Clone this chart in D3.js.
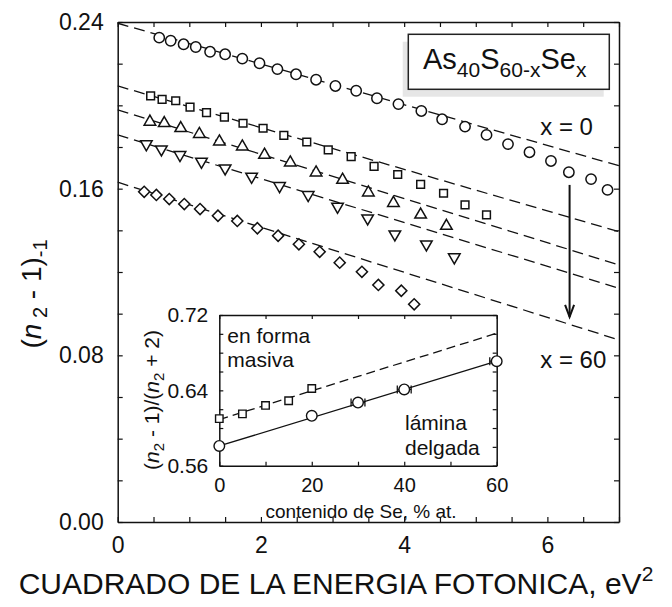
<html>
<head>
<meta charset="utf-8">
<title>As40S60-xSex</title>
<style>
  body { margin: 0; background: #fff; }
  text { font-family: "Liberation Sans", Arial, sans-serif; fill: #111; }
</style>
</head>
<body>
<script src="https://cdn.jsdelivr.net/npm/d3@7"></script>
<script>

// datos: cuadrado de la energia fotonica (eV^2) y (n^2-1)^-1 para cada composicion
var e2_x0  = [0.58,0.74,0.92,1.09,1.29,1.50,1.74,1.98,2.23,2.49,2.77,3.04,3.33,3.62,3.92,4.24,4.53,4.85,5.15,5.45,5.75,6.05,6.30,6.61,6.84];
var inv_x0 = [0.2325,0.2310,0.2293,0.2280,0.2257,0.2245,0.2224,0.2202,0.2174,0.2149,0.2123,0.2093,0.2070,0.2034,0.2006,0.1973,0.1933,0.1898,0.1858,0.1814,0.1775,0.1733,0.1679,0.1646,0.1594];

var e2_x15  = [0.46,0.62,0.81,1.01,1.24,1.49,1.75,2.03,2.32,2.64,2.94,3.26,3.58,3.91,4.23,4.55,4.85,5.15];
var inv_x15 = [0.2045,0.2029,0.2022,0.1991,0.1965,0.1943,0.1914,0.1890,0.1856,0.1824,0.1786,0.1754,0.1707,0.1668,0.1621,0.1578,0.1522,0.1474];

var e2_x30  = [0.45,0.65,0.88,1.14,1.42,1.74,2.05,2.41,2.77,3.14,3.50,3.85,4.23,4.59];
var inv_x30 = [0.1921,0.1914,0.1890,0.1862,0.1826,0.1802,0.1762,0.1725,0.1677,0.1642,0.1581,0.1531,0.1475,0.1421];

var e2_x45  = [0.40,0.61,0.87,1.17,1.50,1.87,2.26,2.66,3.07,3.49,3.87,4.31,4.70];
var inv_x45 = [0.1814,0.1789,0.1762,0.1730,0.1698,0.1658,0.1613,0.1570,0.1514,0.1458,0.1381,0.1333,0.1271];

var e2_x60  = [0.37,0.54,0.72,0.93,1.15,1.40,1.67,1.95,2.24,2.53,2.82,3.10,3.41,3.64,3.96,4.14];
var inv_x60 = [0.1585,0.1570,0.1550,0.1526,0.1502,0.1470,0.1445,0.1410,0.1374,0.1333,0.1297,0.1245,0.1201,0.1138,0.1110,0.1045];

// rectas de ajuste (valor en E^2 = 0 y en E^2 = 7)
var fitStart = [0.2394, 0.2093, 0.1978, 0.1858, 0.1631];
var fitEnd   = [0.1710, 0.1393, 0.1234, 0.1122, 0.0874];

// grafico interior
var se_bulk    = [0, 5, 10, 15, 20];
var ratio_bulk = [0.610, 0.615, 0.624, 0.629, 0.642];
var se_film    = [0, 20, 30, 40, 60];
var ratio_film = [0.581, 0.613, 0.627, 0.641, 0.671];
var err_film   = [0, 0, 1.5, 1.5, 1.5];
var fitBulk = [0.609, 0.7006];
var fitFilm = [0.581, 0.671];

var xTicks = [0, 2, 4, 6];
var yTicks = [0, 0.08, 0.16, 0.24];

var width  = 672;
var height = 607;

var svg = d3.select("body")
			.append("svg")
			.attr("width", width)
			.attr("height", height);

var padding = { top: 22, right: 53, bottom: 85, left: 117.7 };

var x = d3.scaleLinear()
		.domain([0, 7])
		.range([padding.left, width - padding.right]);
var y = d3.scaleLinear()
		.domain([0, 0.24])
		.range([height - padding.bottom, padding.top]);

// ejes (marcas hacia dentro)
var fmtX = function(d){ return xTicks.indexOf(d) >= 0 ? d : ""; };
var fmtY = function(d){
	for (var i = 0; i < yTicks.length; i++) if (Math.abs(d - yTicks[i]) < 1e-6) return d.toFixed(2);
	return "";
};

svg.append("g")
	.attr("transform", "translate(0," + y(0) + ")")
	.call(d3.axisBottom(x).tickValues(d3.range(0, 7.01, 0.5)).tickSizeInner(-5).tickSizeOuter(0).tickPadding(15).tickFormat(fmtX));
svg.append("g")
	.attr("transform", "translate(0," + y(0.24) + ")")
	.call(d3.axisTop(x).tickValues(d3.range(0, 7.01, 0.5)).tickSizeInner(-5).tickSizeOuter(0).tickFormat(""));
svg.append("g")
	.attr("transform", "translate(" + x(0) + ",0)")
	.call(d3.axisLeft(y).tickValues(d3.range(0, 0.2401, 0.02)).tickSizeInner(-5).tickSizeOuter(0).tickPadding(14).tickFormat(fmtY));
svg.append("g")
	.attr("transform", "translate(" + x(7) + ",0)")
	.call(d3.axisRight(y).tickValues(d3.range(0, 0.2401, 0.02)).tickSizeInner(-5).tickSizeOuter(0).tickFormat(""));

svg.selectAll(".domain").attr("stroke", "#111").attr("stroke-width", 1.5);
svg.selectAll(".tick line").attr("stroke", "#111").attr("stroke-width", 1.2);
svg.selectAll(".tick text").attr("font-size", "23px").attr("font-family", "Liberation Sans, Arial, sans-serif").attr("fill", "#111");

// rectas de ajuste discontinuas
svg.selectAll("line.fit")
	.data(fitStart)
	.enter()
	.append("line")
	.attr("class", "fit")
	.attr("x1", x(0))
	.attr("y1", function(d){ return y(d); })
	.attr("x2", x(7))
	.attr("y2", function(d, i){ return y(fitEnd[i]); })
	.attr("stroke", "#111")
	.attr("stroke-width", 1.3)
	.attr("stroke-dasharray", "11,6");

// simbolos
function drawSeries(xs, ys, type, size, rot){
	var sym = d3.symbol().type(type).size(size);
	svg.append("g")
		.selectAll("path")
		.data(xs)
		.enter()
		.append("path")
		.attr("d", sym)
		.attr("transform", function(d, i){
			return "translate(" + x(d) + "," + y(ys[i]) + ") rotate(" + rot + ")";
		})
		.attr("fill", "white")
		.attr("stroke", "#111")
		.attr("stroke-width", 1.5);
}
drawSeries(e2_x0,  inv_x0,  d3.symbolCircle,   84, 0);
drawSeries(e2_x15, inv_x15, d3.symbolSquare,   60, 0);
drawSeries(e2_x30, inv_x30, d3.symbolTriangle, 58, 0);
drawSeries(e2_x45, inv_x45, d3.symbolTriangle, 58, 180);
drawSeries(e2_x60, inv_x60, d3.symbolSquare,   62, 45);

// flecha x = 0 -> x = 60
var arrowX = 6.31, arrowY = [0.1618, 0.0985];
svg.append("line")
	.attr("x1", x(arrowX)).attr("y1", y(arrowY[0]))
	.attr("x2", x(arrowX)).attr("y2", y(arrowY[1]))
	.attr("stroke", "#111").attr("stroke-width", 2);
svg.append("path")
	.attr("d", "M" + (x(arrowX) - 4.5) + "," + (y(arrowY[1]) - 12) + "L" + x(arrowX) + "," + y(arrowY[1]) + "L" + (x(arrowX) + 4.5) + "," + (y(arrowY[1]) - 12))
	.attr("fill", "none").attr("stroke", "#111").attr("stroke-width", 2);

svg.append("text").attr("x", x(5.9)).attr("y", y(0.1858)).attr("font-size", "24px").text("x = 0");
svg.append("text").attr("x", x(5.9)).attr("y", y(0.0738)).attr("font-size", "24px").text("x = 60");

// leyenda con sombra
svg.append("rect").attr("x", 402.7).attr("y", 41.7).attr("width", 201).attr("height", 55).attr("fill", "#e6e6e6");
svg.append("rect").attr("x", 408.3).attr("y", 34.3).attr("width", 201).attr("height", 55)
	.attr("fill", "white").attr("stroke", "#222").attr("stroke-width", 1.5);
var leg = svg.append("text").attr("x", 423).attr("y", 68.5).attr("font-size", "29px");
leg.append("tspan").text("As");
leg.append("tspan").attr("dy", 8).attr("font-size", "21px").text("40");
leg.append("tspan").attr("dy", -8).text("S");
leg.append("tspan").attr("dy", 8).attr("font-size", "21px").text("60-x");
leg.append("tspan").attr("dy", -8).text("Se");
leg.append("tspan").attr("dy", 8).attr("font-size", "21px").text("x");

// titulos de los ejes
var ty = svg.append("text")
	.attr("transform", "translate(41,294) rotate(-90)")
	.attr("text-anchor", "middle")
	.attr("font-size", "28px");
ty.append("tspan").text("(");
ty.append("tspan").attr("font-style", "italic").text("n");
ty.append("tspan").attr("dy", 6).attr("font-size", "20px").text(" 2");
ty.append("tspan").attr("dy", -6).text(" -  1)");
ty.append("tspan").attr("dy", 6).attr("font-size", "20px").text("-1");

var tx = svg.append("text")
	.attr("x", 336).attr("y", 594)
	.attr("text-anchor", "middle")
	.attr("font-size", "30px");
tx.append("tspan").text("CUADRADO DE LA ENERGIA FOTONICA, eV");
tx.append("tspan").attr("dy", -13).attr("font-size", "21px").text("2");

// ---- grafico interior ----
var xi = d3.scaleLinear().domain([0, 60]).range([219.3, 496.7]);
var yi = d3.scaleLinear().domain([0.56, 0.72]).range([465.7, 315]);

svg.append("rect").attr("x", xi(0)).attr("y", yi(0.72))
	.attr("width", xi(60) - xi(0)).attr("height", yi(0.56) - yi(0.72)).attr("fill", "white");

var inset = svg.append("g").attr("class", "inset");
var fmtXi = function(d){ return d % 20 === 0 ? d : ""; };
var fmtYi = function(d){
	var k = Math.round((d - 0.56) / 0.02);
	return k % 4 === 0 ? d.toFixed(2) : "";
};
inset.append("g").attr("class", "xi").attr("transform", "translate(0," + yi(0.56) + ")")
	.call(d3.axisBottom(xi).tickValues(d3.range(0, 60.1, 10)).tickSizeInner(-4).tickSizeOuter(0).tickPadding(12).tickFormat(fmtXi));
inset.append("g").attr("transform", "translate(0," + yi(0.72) + ")")
	.call(d3.axisTop(xi).tickValues(d3.range(0, 60.1, 10)).tickSizeInner(-4).tickSizeOuter(0).tickFormat(""));
inset.append("g").attr("transform", "translate(" + xi(0) + ",0)")
	.call(d3.axisLeft(yi).tickValues(d3.range(0.56, 0.7201, 0.02)).tickSizeInner(-4).tickSizeOuter(0).tickPadding(11).tickFormat(fmtYi));
inset.append("g").attr("transform", "translate(" + xi(60) + ",0)")
	.call(d3.axisRight(yi).tickValues(d3.range(0.56, 0.7201, 0.02)).tickSizeInner(-4).tickSizeOuter(0).tickFormat(""));
inset.selectAll(".domain").attr("stroke", "#111").attr("stroke-width", 1.5);
inset.selectAll(".tick line").attr("stroke", "#111").attr("stroke-width", 1.2);
inset.selectAll(".tick text").attr("font-size", "21px").attr("font-family", "Liberation Sans, Arial, sans-serif").attr("fill", "#111");
inset.selectAll(".xi .tick text").attr("font-size", "20px");

// rectas del grafico interior
inset.append("line")
	.attr("x1", xi(0)).attr("y1", yi(fitBulk[0]))
	.attr("x2", xi(60)).attr("y2", yi(fitBulk[1]))
	.attr("stroke", "#111").attr("stroke-width", 1.3).attr("stroke-dasharray", "9,5");
inset.append("line")
	.attr("x1", xi(0)).attr("y1", yi(fitFilm[0]))
	.attr("x2", xi(60)).attr("y2", yi(fitFilm[1]))
	.attr("stroke", "#111").attr("stroke-width", 1.3);

// barras de error horizontales
inset.selectAll("g.err")
	.data(se_film.filter(function(d, i){ return err_film[i] > 0; }))
	.enter()
	.append("g")
	.attr("class", "err")
	.each(function(d){
		var i = se_film.indexOf(d);
		var g = d3.select(this);
		var yy = yi(ratio_film[i]);
		g.append("line").attr("x1", xi(d - err_film[i])).attr("x2", xi(Math.min(60, d + err_film[i])))
			.attr("y1", yy).attr("y2", yy).attr("stroke", "#111").attr("stroke-width", 1.3);
		g.append("line").attr("x1", xi(d - err_film[i])).attr("x2", xi(d - err_film[i]))
			.attr("y1", yy - 4).attr("y2", yy + 4).attr("stroke", "#111").attr("stroke-width", 1.3);
		if (d + err_film[i] <= 60)
			g.append("line").attr("x1", xi(d + err_film[i])).attr("x2", xi(d + err_film[i]))
				.attr("y1", yy - 4).attr("y2", yy + 4).attr("stroke", "#111").attr("stroke-width", 1.3);
	});

inset.selectAll("path.bulk")
	.data(se_bulk)
	.enter()
	.append("path")
	.attr("class", "bulk")
	.attr("d", d3.symbol().type(d3.symbolSquare).size(56))
	.attr("transform", function(d, i){ return "translate(" + xi(d) + "," + yi(ratio_bulk[i]) + ")"; })
	.attr("fill", "white").attr("stroke", "#111").attr("stroke-width", 1.4);
inset.selectAll("circle.film")
	.data(se_film)
	.enter()
	.append("circle")
	.attr("class", "film")
	.attr("cx", function(d){ return xi(d); })
	.attr("cy", function(d, i){ return yi(ratio_film[i]); })
	.attr("r", 5.3)
	.attr("fill", "white").attr("stroke", "#111").attr("stroke-width", 1.4);

// textos del grafico interior
inset.append("text").attr("x", 227.3).attr("y", 343.3).attr("font-size", "21px").text("en forma");
inset.append("text").attr("x", 227.3).attr("y", 366.7).attr("font-size", "21px").text("masiva");
inset.append("text").attr("x", 405).attr("y", 430).attr("font-size", "21px").text("lámina");
inset.append("text").attr("x", 405).attr("y", 455).attr("font-size", "21px").text("delgada");

inset.append("text")
	.attr("x", 361).attr("y", 518)
	.attr("text-anchor", "middle")
	.attr("font-size", "19px")
	.text("contenido de Se, % at.");

var tyi = inset.append("text")
	.attr("transform", "translate(159,400) rotate(-90)")
	.attr("text-anchor", "middle")
	.attr("font-size", "21px");
tyi.append("tspan").text("(");
tyi.append("tspan").attr("font-style", "italic").text("n");
tyi.append("tspan").attr("dy", 5).attr("font-size", "15px").text("2");
tyi.append("tspan").attr("dy", -5).text(" - 1)/(");
tyi.append("tspan").attr("font-style", "italic").text("n");
tyi.append("tspan").attr("dy", 5).attr("font-size", "15px").text("2");
tyi.append("tspan").attr("dy", -5).text(" + 2)");

</script>
</body>
</html>
